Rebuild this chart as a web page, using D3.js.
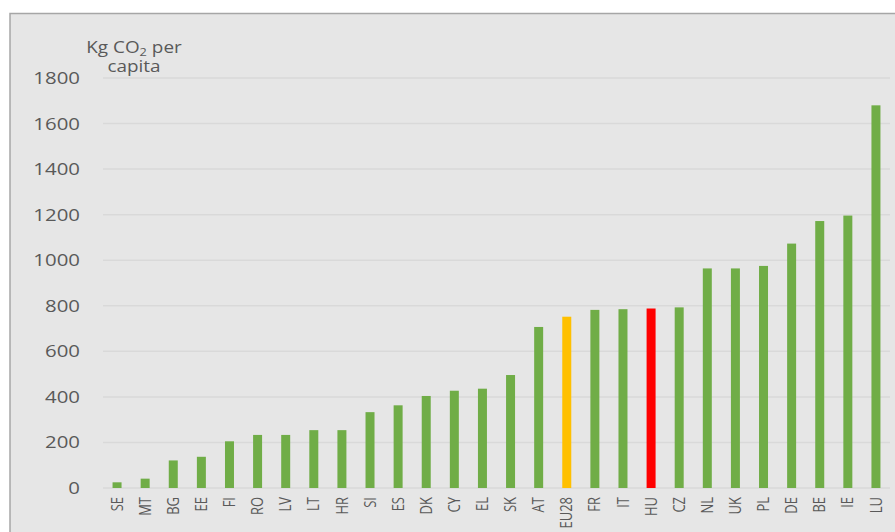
<!DOCTYPE html>
<html>
<head>
<meta charset="utf-8">
<script src="https://cdn.jsdelivr.net/npm/d3@7"></script>
<style>
  html, body { margin: 0; padding: 0; background: #fff; }
  svg { display: block; }
  text { font-family: "Open Sans", sans-serif; fill: #595959; }
</style>
</head>
<body>
<svg id="chart" width="895" height="532"></svg>
<script>
// values, kg CO2 per capita
const countries = ["SE","MT","BG","EE","FI","RO","LV","LT","HR","SI","ES","DK","CY","EL",
  "SK","AT","EU28","FR","IT","HU","CZ","NL","UK","PL","DE","BE","IE","LU"];
const values = [25, 41, 121, 137, 205, 233, 233, 254, 254, 333, 363, 404, 427, 436,
  496, 707, 752, 782, 785, 788, 793, 964, 964, 975, 1073, 1172, 1196, 1680];
const yTicks = [0, 200, 400, 600, 800, 1000, 1200, 1400, 1600, 1800];
const highlight = { EU28: "#ffc000", HU: "#ff0000" };

const svg = d3.select("#chart");
const width = 895, height = 532;
const plot = { left: 103, right: 890, top: 78, bottom: 488 };

// panel frame
svg.append("rect")
  .attr("x", 10).attr("y", 13.5)
  .attr("width", width + 20).attr("height", height + 20)
  .attr("fill", "#e6e6e6")
  .attr("stroke", "#a6a6a6")
  .attr("stroke-width", 1.5);

const x = d3.scaleBand()
  .domain(countries)
  .range([plot.left, plot.right])
  .paddingInner(0.68)
  .paddingOuter(0.34);

const y = d3.scaleLinear()
  .domain([0, 1800])
  .range([plot.bottom, plot.top]);

// gridlines
svg.append("g")
  .selectAll("line")
  .data(yTicks)
  .join("line")
  .attr("x1", plot.left).attr("x2", plot.right)
  .attr("y1", d => y(d)).attr("y2", d => y(d))
  .attr("stroke", "#d9d9d9")
  .attr("stroke-width", 1.5);

// y tick labels (text is a bit wide in the source, so stretch it)
svg.append("g")
  .selectAll("text")
  .data(yTicks)
  .join("text")
  .attr("transform", d => `translate(80,${y(d)}) scale(1.2,1)`)
  .attr("text-anchor", "end")
  .attr("dy", "0.35em")
  .attr("font-size", 17)
  .text(d => d);

// bars
svg.append("g")
  .selectAll("rect")
  .data(countries)
  .join("rect")
  .attr("x", d => x(d))
  .attr("width", x.bandwidth())
  .attr("y", (d, i) => y(values[i]))
  .attr("height", (d, i) => y(0) - y(values[i]))
  .attr("fill", d => highlight[d] || "#70ad47");

// x labels, rotated
svg.append("g")
  .selectAll("text")
  .data(countries)
  .join("text")
  .attr("transform", d => `translate(${x(d) + x.bandwidth() / 2},497) rotate(-90) scale(1,1.2)`)
  .attr("text-anchor", "end")
  .attr("dy", "0.36em")
  .attr("font-size", 13)
  .text(d => d);

// axis title
const title = svg.append("text")
  .attr("transform", "translate(134,0) scale(1.22,1)")
  .attr("text-anchor", "middle")
  .attr("font-size", 15.5);
const t1 = title.append("tspan").attr("x", 0).attr("y", 53.5);
t1.append("tspan").text("Kg CO");
t1.append("tspan").attr("font-size", 10.5).attr("dy", 3).text("2");
t1.append("tspan").attr("dy", -3).text(" per");
title.append("tspan").attr("x", 0).attr("y", 72.5).text("capita");
</script>
</body>
</html>
